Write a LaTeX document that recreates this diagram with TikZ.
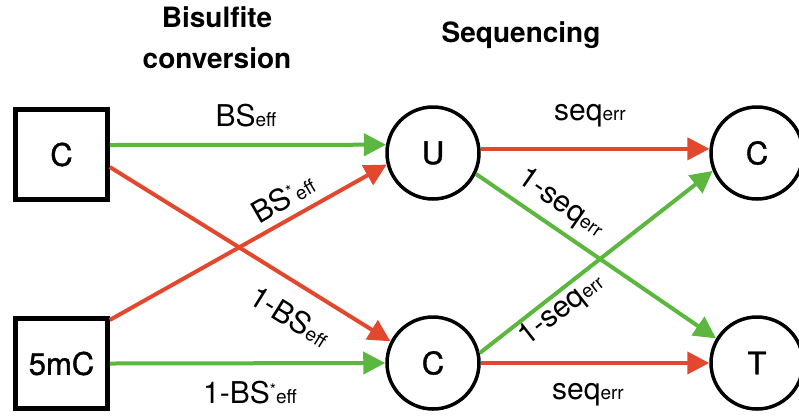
\documentclass[tikz,border=0pt]{standalone}
\usepackage{fontspec}
\setmainfont{TeX Gyre Heros}
\newfontfamily\medfont{TeX Gyre Heros}[FakeBold=1.2]
\usetikzlibrary{arrows.meta}
\definecolor{arrgreen}{RGB}{91,183,61}
\definecolor{arrred}{RGB}{226,72,46}
\newcommand\lsub[1]{{\fontsize{19}{19}\selectfont #1}}
\newcommand\lstar{\raisebox{8pt}{\fontsize{16}{16}\selectfont *}}
\begin{document}
\begin{tikzpicture}[x=1pt,y=-1pt,
  boxnode/.style={draw,line width=4.5pt,minimum width=92pt,minimum height=90pt,inner sep=0pt,font=\fontsize{31}{31}\medfont},
  circnode/.style={draw,circle,line width=3.5pt,minimum size=92pt,inner sep=0pt,font=\fontsize{31}{31}\medfont},
  arr/.style={line width=4pt,-{Triangle[length=22pt,width=22pt]}},
  garr/.style={arr,arrgreen},
  rarr/.style={arr,arrred},
  lbl/.style={font=\fontsize{30}{30}\selectfont,inner sep=0pt},
  head/.style={font=\fontsize{28}{41}\selectfont\bfseries,align=center,inner sep=0pt}]
\useasboundingbox (0,0) rectangle (799,416);
% headings
\node[head,anchor=base] (h1) at (217,68) {Bisulfite\\conversion};
\node[head,anchor=base] (h2) at (521,42) {Sequencing};
% nodes
\node[boxnode] (bc) at (61.5,154.5) {C};
\node[boxnode] (bm) at (61.5,363.5) {5mC};
\node[circnode] (u) at (433,153) {U};
\node[circnode] (c) at (433,363) {C};
\node[circnode] (rc) at (757,153) {C};
\node[circnode] (rt) at (757,363) {T};
% bisulfite arrows
\draw[garr] ([yshift=9.5pt]bc.east) -- (u.170);
\draw[rarr] ([yshift=-12.5pt]bc.east) -- (c.153);
\draw[rarr] ([yshift=43.5pt]bm.east) -- (u.194);
\draw[garr] (bm.east) -- (c.180);
% sequencing arrows
\draw[rarr] (u.5) -- (rc.175);
\draw[garr] (u.334) -- (rt.149);
\draw[garr] (c.12) -- (rc.202);
\draw[rarr] (c.0) -- (rt.180);
% labels
\node[lbl] (l1) at (246,116) {BS\lsub{eff}};
\node[lbl,rotate=30] (l2) at (283,198) {BS\lstar\lsub{eff}};
\node[lbl,rotate=-32] (l3) at (290,316) {1-BS\lsub{eff}};
\node[lbl] (l4) at (250,393) {1-BS\lstar\lsub{eff}};
\node[lbl] (l5) at (590,116) {seq\lsub{err}};
\node[lbl] (l6) at (588,395) {seq\lsub{err}};
\node[lbl,rotate=-35] (l7) at (561,204) {1-seq\lsub{err}};
\node[lbl,rotate=38] (l8) at (562,310) {1-seq\lsub{err}};
\end{tikzpicture}
\end{document}
